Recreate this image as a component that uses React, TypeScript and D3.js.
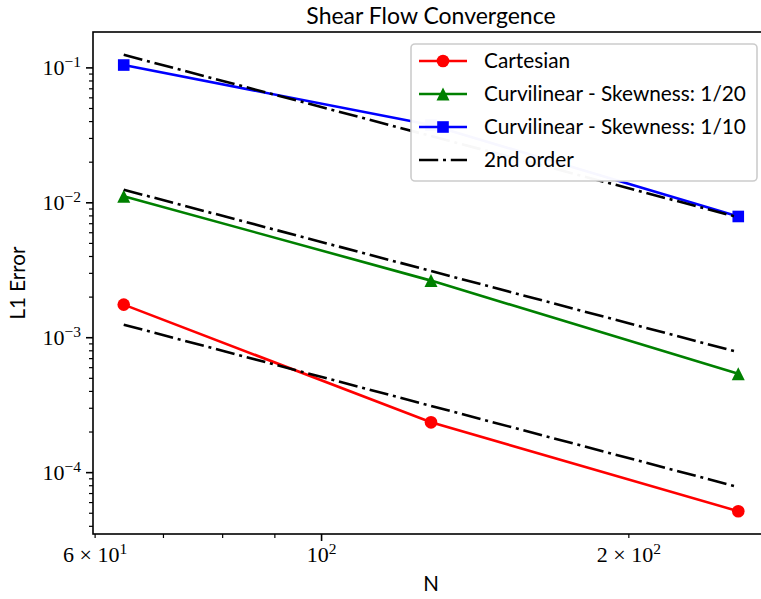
import React from "react";
import * as d3 from "d3";

// Grid sizes and measured L1 errors
const gridN = [64, 128, 256];
const cartesianErr = [1.76e-3, 2.36e-4, 5.18e-5];
const skew20Err = [1.12e-2, 2.65e-3, 5.4e-4];
const skew10Err = [1.05e-1, 3.77e-2, 7.92e-3];

// Second-order reference slopes
const refHigh = [0.125, 0.03125, 0.0078125];
const refMid = [0.0125, 0.003125, 0.00078125];
const refLow = [0.00125, 0.0003125, 0.000078125];

const yTickExps = [-4, -3, -2, -1];
const xTickValues = [60, 100, 200];
const xTickLabels = [
  { pre: "6 × 10", sup: "1" },
  { pre: "10", sup: "2" },
  { pre: "2 × 10", sup: "2" },
];
const legendLabels = [
  "Cartesian",
  "Curvilinear - Skewness: 1/20",
  "Curvilinear - Skewness: 1/10",
  "2nd order",
];

const W = 761;
const H = 599;
const left = 93;
const right = 769;
const top = 32;
const bottom = 534;

const sansFont = "Lato, 'Open Sans', sans-serif";
const serifFont = "'Liberation Serif', 'DejaVu Serif', serif";

function logPadDomain(vals: number[], frac = 0.05): [number, number] {
  const lo = Math.log10(d3.min(vals) as number);
  const hi = Math.log10(d3.max(vals) as number);
  const p = (hi - lo) * frac;
  return [Math.pow(10, lo - p), Math.pow(10, hi + p)];
}

const x = d3.scaleLog().domain(logPadDomain(gridN)).range([left, right]);
const y = d3
  .scaleLog()
  .domain(
    logPadDomain([
      ...cartesianErr,
      ...skew20Err,
      ...skew10Err,
      ...refHigh,
      ...refMid,
      ...refLow,
    ])
  )
  .range([bottom, top]);

const line = d3
  .line<number>()
  .x((_, i) => x(gridN[i]))
  .y((d) => y(d));

const dashDot = "19.2,4.8,3,4.8";

function Marker({ kind, cx, cy, color }: { kind: string; cx: number; cy: number; color: string }) {
  if (kind === "circle") return <circle cx={cx} cy={cy} r={6.3} fill={color} />;
  if (kind === "square")
    return <rect x={cx - 5.8} y={cy - 5.8} width={11.6} height={11.6} fill={color} />;
  const s = 6.5;
  return (
    <path
      d={`M${cx},${cy - s} L${cx - s},${cy + s} L${cx + s},${cy + s} Z`}
      fill={color}
    />
  );
}

const series = [
  { data: cartesianErr, color: "#ff0000", marker: "circle" },
  { data: skew20Err, color: "#008000", marker: "triangle" },
  { data: skew10Err, color: "#0000ff", marker: "square" },
];

export default function App() {
  const [yLo, yHi] = y.domain();
  const yMinor: number[] = [];
  for (let e = -6; e <= 1; e++) {
    for (let m = 2; m <= 9; m++) {
      const v = m * Math.pow(10, e);
      if (v >= yLo && v <= yHi) yMinor.push(v);
    }
  }
  const [xLo, xHi] = x.domain();
  const xMinor: number[] = [];
  for (let e = 1; e <= 3; e++) {
    for (let m = 2; m <= 9; m++) {
      const v = m * Math.pow(10, e);
      if (v >= xLo && v <= xHi && !xTickValues.includes(v)) xMinor.push(v);
    }
  }

  const legX = 411;
  const legY = 44;
  const rowY = [61, 94, 127, 160];

  return (
    <svg
      width={W}
      height={H}
      style={{ position: "absolute", left: 0, top: 0, background: "#fff" }}
    >
      <rect x={0} y={0} width={W} height={H} fill="#fff" />

      {/* data series */}
      {series.map((s, si) => (
        <g key={si}>
          <path d={line(s.data) || ""} fill="none" stroke={s.color} strokeWidth={2.6} />
          {s.data.map((v, i) => (
            <Marker key={i} kind={s.marker} cx={x(gridN[i])} cy={y(v)} color={s.color} />
          ))}
        </g>
      ))}

      {/* second-order reference lines */}
      {[refHigh, refMid, refLow].map((r, i) => (
        <path
          key={i}
          d={line(r) || ""}
          fill="none"
          stroke="#000"
          strokeWidth={2.6}
          strokeDasharray={dashDot}
        />
      ))}

      {/* frame */}
      <rect
        x={left}
        y={top}
        width={right - left}
        height={bottom - top}
        fill="none"
        stroke="#000"
        strokeWidth={1.6}
      />

      {/* y ticks */}
      {yMinor.map((v, i) => (
        <line key={i} x1={left - 4} x2={left} y1={y(v)} y2={y(v)} stroke="#000" strokeWidth={1.2} />
      ))}
      {yTickExps.map((e) => {
        const yy = y(Math.pow(10, e));
        return (
          <g key={e}>
            <line x1={left - 7} x2={left} y1={yy} y2={yy} stroke="#000" strokeWidth={1.6} />
            <text
              x={81}
              y={yy + 7.5}
              textAnchor="end"
              fontFamily={serifFont}
              fontSize={22}
              fill="#000"
            >
              10
              <tspan dy={-8.5} fontSize={15.5}>
                {"−" + Math.abs(e)}
              </tspan>
            </text>
          </g>
        );
      })}

      {/* x ticks */}
      {xMinor.map((v, i) => (
        <line key={i} x1={x(v)} x2={x(v)} y1={bottom} y2={bottom + 4} stroke="#000" strokeWidth={1.2} />
      ))}
      {xTickValues.map((v, i) => (
        <g key={v}>
          <line
            x1={x(v)}
            x2={x(v)}
            y1={bottom}
            y2={bottom + (v === 100 ? 7 : 4)}
            stroke="#000"
            strokeWidth={v === 100 ? 1.6 : 1.2}
          />
          <text
            x={x(v)}
            y={562}
            textAnchor="middle"
            fontFamily={serifFont}
            fontSize={22}
            fill="#000"
          >
            {xTickLabels[i].pre}
            <tspan dy={-8.5} fontSize={15.5}>
              {xTickLabels[i].sup}
            </tspan>
          </text>
        </g>
      ))}

      {/* axis labels and title */}
      <text
        x={(left + right) / 2}
        y={591}
        textAnchor="middle"
        fontFamily={sansFont}
        fontSize={20.5}
        fill="#000"
      >
        N
      </text>
      <text
        transform={`translate(25,${(top + bottom) / 2}) rotate(-90)`}
        textAnchor="middle"
        fontFamily={sansFont}
        fontSize={20.5}
        fill="#000"
      >
        L1 Error
      </text>
      <text
        x={(left + right) / 2}
        y={23.5}
        textAnchor="middle"
        fontFamily={sansFont}
        fontSize={23}
        fill="#000"
      >
        Shear Flow Convergence
      </text>

      {/* legend */}
      <rect
        x={legX}
        y={legY}
        width={346}
        height={137}
        rx={4}
        fill="#fff"
        fillOpacity={0.97}
        stroke="#cccccc"
        strokeWidth={1.6}
      />
      {legendLabels.map((lab, i) => {
        const ly = rowY[i];
        const s = series[i];
        return (
          <g key={lab}>
            {s ? (
              <>
                <line x1={419} x2={467} y1={ly} y2={ly} stroke={s.color} strokeWidth={2.6} />
                <Marker kind={s.marker} cx={443} cy={ly} color={s.color} />
              </>
            ) : (
              <line
                x1={419}
                x2={467}
                y1={ly}
                y2={ly}
                stroke="#000"
                strokeWidth={2.6}
                strokeDasharray={dashDot}
              />
            )}
            <text
              x={484}
              y={ly + 7}
              fontFamily={sansFont}
              fontSize={20.8}
              fill="#000"
            >
              {lab}
            </text>
          </g>
        );
      })}
    </svg>
  );
}
